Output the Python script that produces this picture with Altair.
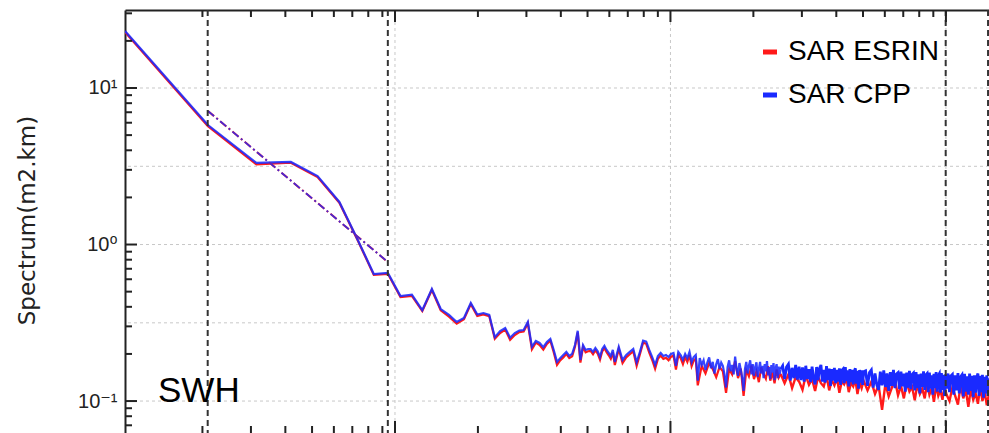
import altair as alt
import pandas as pd

DK = 0.01047  # spectral step (cycles/km): bin n sits at n*DK

# ---------------- spectra -----------------
n_esrin_low = list(range(1, 61)) + list(range(62, 121, 2)) + list(range(124, 241, 4))
n_cpp_low = list(range(1, 61)) + list(range(62, 241, 2))

cpp_low = [
    23.1, 5.80, 3.32, 3.37, 2.74, 1.87, 1.07, 0.648, 0.658, 0.469,
    0.479, 0.381, 0.520, 0.387, 0.355, 0.320, 0.339, 0.423, 0.357, 0.365,
    0.355, 0.256, 0.280, 0.293, 0.254, 0.272, 0.282, 0.284, 0.320, 0.222,
    0.242, 0.235, 0.221, 0.238, 0.249, 0.212, 0.178, 0.188, 0.197, 0.206,
    0.194, 0.200, 0.228, 0.281, 0.183, 0.228, 0.212, 0.215, 0.215, 0.206,
    0.218, 0.208, 0.191, 0.215, 0.225, 0.212, 0.203, 0.194, 0.212, 0.178,
    0.222, 0.183, 0.197, 0.206, 0.215, 0.177, 0.206, 0.243, 0.240, 0.212,
    0.191, 0.170, 0.194, 0.203, 0.194, 0.197, 0.191, 0.200, 0.203, 0.168,
    0.206, 0.197, 0.183, 0.200, 0.188, 0.206, 0.177, 0.191, 0.197, 0.135,
    0.188, 0.170, 0.182, 0.158, 0.176, 0.190, 0.162, 0.178, 0.150, 0.172,
    0.185, 0.160, 0.176, 0.168, 0.148, 0.122, 0.165, 0.182, 0.155, 0.170,
    0.148, 0.192, 0.160, 0.145, 0.175, 0.158, 0.140, 0.116, 0.160, 0.178,
    0.150, 0.168, 0.182, 0.148, 0.172, 0.145, 0.165, 0.177, 0.142, 0.160,
    0.178, 0.150, 0.168, 0.140, 0.172, 0.155, 0.180, 0.146, 0.165, 0.138,
    0.170, 0.152, 0.175, 0.136, 0.162, 0.172, 0.140, 0.166, 0.148, 0.160,
]

esrin_low = [
    22.8, 5.70, 3.25, 3.33, 2.70, 1.85, 1.06, 0.640, 0.650, 0.462,
    0.470, 0.376, 0.512, 0.380, 0.346, 0.312, 0.333, 0.416, 0.350, 0.358,
    0.349, 0.250, 0.272, 0.286, 0.246, 0.264, 0.276, 0.278, 0.314, 0.214,
    0.236, 0.228, 0.213, 0.232, 0.243, 0.205, 0.170, 0.182, 0.190, 0.200,
    0.188, 0.193, 0.222, 0.274, 0.176, 0.222, 0.205, 0.208, 0.209, 0.199,
    0.211, 0.201, 0.184, 0.208, 0.218, 0.205, 0.196, 0.186, 0.205, 0.170,
    0.215, 0.175, 0.190, 0.199, 0.208, 0.168, 0.199, 0.236, 0.232, 0.204,
    0.183, 0.161, 0.186, 0.195, 0.186, 0.189, 0.182, 0.192, 0.195, 0.159,
    0.197, 0.188, 0.172, 0.191, 0.178, 0.197, 0.167, 0.181, 0.187, 0.126,
    0.168, 0.150, 0.175, 0.160, 0.142, 0.165, 0.155, 0.113, 0.160, 0.148,
    0.180, 0.140, 0.161, 0.108, 0.157, 0.144, 0.169, 0.138, 0.155, 0.132,
    0.164, 0.149, 0.139, 0.167, 0.135, 0.152, 0.130, 0.159, 0.141, 0.149,
]

n_hi_cpp = list(range(244, 481, 4)) + list(range(488, 961, 8)) + list(range(972, 1369, 12))
cpp_hi = [
    0.168, 0.138, 0.165, 0.172, 0.135, 0.163, 0.140, 0.170, 0.137, 0.166,
    0.136, 0.164, 0.133, 0.168, 0.138, 0.160, 0.132, 0.166, 0.139, 0.128,
    0.165, 0.136, 0.162, 0.170, 0.133, 0.158, 0.131, 0.167, 0.136, 0.161,
    0.125, 0.160, 0.135, 0.163, 0.130, 0.158, 0.133, 0.162, 0.127, 0.157,
    0.160, 0.130, 0.165, 0.134, 0.157, 0.124, 0.160, 0.132, 0.158, 0.128,
    0.155, 0.162, 0.129, 0.156, 0.120, 0.158, 0.131, 0.157, 0.127, 0.154,
    0.156, 0.125, 0.152, 0.158, 0.122, 0.150, 0.127, 0.118, 0.154, 0.126,
    0.157, 0.123, 0.150, 0.116, 0.153, 0.125, 0.158, 0.121, 0.149, 0.152,
    0.119, 0.154, 0.124, 0.150, 0.115, 0.152, 0.122, 0.156, 0.119, 0.148,
    0.151, 0.117, 0.153, 0.121, 0.148, 0.112, 0.150, 0.123, 0.155, 0.118,
    0.147, 0.150, 0.114, 0.152, 0.120, 0.146, 0.110, 0.149, 0.121, 0.153,
    0.115, 0.146, 0.150, 0.113, 0.151, 0.118, 0.147, 0.108, 0.148, 0.120,
    0.150, 0.114, 0.145, 0.148, 0.110, 0.146, 0.117, 0.151, 0.112, 0.143,
    0.147, 0.107, 0.149, 0.115, 0.144, 0.110, 0.150, 0.116, 0.145, 0.106,
    0.146, 0.113, 0.142, 0.150, 0.108, 0.145, 0.114, 0.147, 0.105, 0.143,
    0.112, 0.146, 0.108, 0.140,
]

n_hi_esrin = list(range(248, 481, 8)) + list(range(496, 961, 16)) + list(range(984, 1369, 24))
esrin_hi = [
    0.130, 0.148, 0.121, 0.142, 0.133, 0.118, 0.146, 0.127, 0.138, 0.116,
    0.143, 0.130, 0.124, 0.145, 0.117, 0.136, 0.126, 0.141, 0.113, 0.134,
    0.128, 0.139, 0.114, 0.131, 0.124, 0.137, 0.111, 0.132, 0.121, 0.135,
    0.117, 0.133, 0.111, 0.126, 0.088, 0.129, 0.107, 0.122, 0.135, 0.109,
    0.125, 0.104, 0.131, 0.115, 0.123, 0.101, 0.128, 0.111, 0.120, 0.104,
    0.131, 0.110, 0.121, 0.099, 0.126, 0.108, 0.118, 0.102, 0.124, 0.110,
    0.100, 0.122, 0.108, 0.095, 0.127, 0.104, 0.117, 0.092, 0.120, 0.102,
    0.112, 0.096, 0.124, 0.100, 0.115, 0.094, 0.110,
]

# power-law fit between bins 2 and 9 (dash-dot)
fit_n = [2, 9]
fit_val = [7.13, 0.773]

series_names = ["SAR ESRIN", "SAR CPP"]
series_colors = ["#ff1a1a", "#1a2aff"]

# ---------------- decorations -----------------
dashed_k = [0.0209, 0.0942, 9.98, 14.22]
x_grid = [0.1, 1, 10]
y_grid = [0.1, 0.316, 1, 3.16, 10]
x_major = [0.1, 1, 10]
x_minor = [0.02, 0.03, 0.04, 0.05, 0.06, 0.07, 0.08, 0.09,
           0.2, 0.3, 0.4, 0.5, 0.6, 0.7, 0.8, 0.9,
           2, 3, 4, 5, 6, 7, 8, 9]
y_major = [0.1, 1, 10]
y_minor = [0.07, 0.08, 0.09, 0.2, 0.3, 0.4, 0.5, 0.6, 0.7, 0.8, 0.9,
           2, 3, 4, 5, 6, 7, 8, 9, 20, 30]
panel_label = ["SWH"]

W, H = 864, 423
X_DOMAIN = [DK * 1, DK * 1369]
Y_DOMAIN = [0.0625, 31.5]

xs = alt.Scale(type="log", domain=X_DOMAIN, nice=False)
ys = alt.Scale(type="log", domain=Y_DOMAIN, nice=False)

x_axis = alt.Axis(orient="top", title=None, labels=False, ticks=False,
                  grid=False, domain=True, domainColor="#222",
                  domainWidth=2, values=x_major)
y_axis = alt.Axis(orient="left", values=y_major, grid=False, ticks=False,
                  domain=True, domainColor="#222", domainWidth=2,
                  labelExpr="datum.value > 5 ? '10¹' : datum.value > 0.5 ? '10⁰' : '10⁻¹'",
                  labelFont="Liberation Sans, DejaVu Sans", labelFontSize=20,
                  labelColor="#222", labelPadding=8,
                  title="Spectrum(m2.km)", titleFont="DejaVu Sans",
                  titleFontSize=23, titleFontWeight="normal", titleColor="#222",
                  titleAngle=270, titleX=-98, titleY=210,
                  titleAlign="center", titleBaseline="middle")


def frame_of(ns, vals, name):
    return pd.DataFrame({"k": [n * DK for n in ns], "v": vals, "series": name})


df_esrin_low = frame_of(n_esrin_low, esrin_low, "SAR ESRIN")
df_cpp_low = frame_of(n_cpp_low, cpp_low, "SAR CPP")
# high-frequency parts start from the last low-frequency bin so the lines join
df_esrin_hi = frame_of(n_esrin_low[-1:] + n_hi_esrin, esrin_low[-1:] + esrin_hi, "SAR ESRIN")
df_cpp_hi = frame_of(n_cpp_low[-1:] + n_hi_cpp, cpp_low[-1:] + cpp_hi, "SAR CPP")
fit_df = pd.DataFrame({"k": [n * DK for n in fit_n], "v": fit_val})

color = alt.Color(
    "series:N",
    scale=alt.Scale(domain=series_names, range=series_colors),
    legend=alt.Legend(
        title=None, orient="none", legendX=631, legendY=28,
        symbolType="stroke", symbolStrokeWidth=5, symbolSize=196,
        labelFontSize=28, labelFont="Liberation Sans", labelColor="#000",
        rowPadding=15, labelOffset=4, padding=0, symbolOpacity=1,
    ),
)

frame = alt.Chart(pd.DataFrame({"k": x_grid, "v": [0.1, 1, 10]})).mark_point(opacity=0).encode(
    x=alt.X("k:Q", scale=xs, axis=x_axis),
    y=alt.Y("v:Q", scale=ys, axis=y_axis),
)

hgrid = alt.Chart(pd.DataFrame({"v": y_grid})).mark_rule(
    color="#c8c8c8", strokeDash=[3, 3], strokeWidth=1
).encode(y=alt.Y("v:Q", scale=ys))

vgrid = alt.Chart(pd.DataFrame({"k": x_grid})).mark_rule(
    color="#c8c8c8", strokeDash=[3, 3], strokeWidth=1
).encode(x=alt.X("k:Q", scale=xs))


def spectrum(data, width, opacity):
    return alt.Chart(data).mark_line(strokeWidth=width, opacity=opacity, clip=True).encode(
        x=alt.X("k:Q", scale=xs),
        y=alt.Y("v:Q", scale=ys),
        color=color,
        order=alt.Order("k:Q"),
    )


red_low = spectrum(df_esrin_low, 2.2, 1)
red_hi = spectrum(df_esrin_hi, 2.4, 1)
blue_low = spectrum(df_cpp_low, 2.2, 0.88)
blue_hi = spectrum(df_cpp_hi, 2.8, 1)

fit_red = alt.Chart(fit_df).mark_line(
    color="#ff1a1a", strokeWidth=2, strokeDash=[8, 3, 2, 3]
).encode(x=alt.X("k:Q", scale=xs), y=alt.Y("v:Q", scale=ys))
fit_blue = alt.Chart(fit_df).mark_line(
    color="#1a2aff", strokeWidth=1.8, strokeDash=[8, 3, 2, 3], opacity=0.8
).encode(x=alt.X("k:Q", scale=xs), y=alt.Y("v:Q", scale=ys))

dashed = alt.Chart(pd.DataFrame({"k": dashed_k})).mark_rule(
    color="#333", strokeDash=[6, 4], strokeWidth=2
).encode(x=alt.X("k:Q", scale=xs))

tick_color = "#222"
top_major = alt.Chart(pd.DataFrame({"k": x_major})).mark_rule(color=tick_color, strokeWidth=2).encode(
    x=alt.X("k:Q", scale=xs), y=alt.value(0), y2=alt.value(12))
top_minor = alt.Chart(pd.DataFrame({"k": x_minor})).mark_rule(color=tick_color, strokeWidth=2).encode(
    x=alt.X("k:Q", scale=xs), y=alt.value(0), y2=alt.value(7))
bot_major = alt.Chart(pd.DataFrame({"k": x_major})).mark_rule(color=tick_color, strokeWidth=2).encode(
    x=alt.X("k:Q", scale=xs), y=alt.value(H), y2=alt.value(H - 12))
bot_minor = alt.Chart(pd.DataFrame({"k": x_minor})).mark_rule(color=tick_color, strokeWidth=2).encode(
    x=alt.X("k:Q", scale=xs), y=alt.value(H), y2=alt.value(H - 7))
left_major = alt.Chart(pd.DataFrame({"v": y_major})).mark_rule(color=tick_color, strokeWidth=2).encode(
    y=alt.Y("v:Q", scale=ys), x=alt.value(0), x2=alt.value(12))
left_minor = alt.Chart(pd.DataFrame({"v": y_minor})).mark_rule(color=tick_color, strokeWidth=2).encode(
    y=alt.Y("v:Q", scale=ys), x=alt.value(0), x2=alt.value(7))

swh = alt.Chart(pd.DataFrame({"label": panel_label})).mark_text(
    align="left", baseline="alphabetic", fontSize=35, font="Liberation Sans", color="#000"
).encode(text="label:N", x=alt.value(33), y=alt.value(392))

chart = alt.layer(
    frame, hgrid, vgrid, red_low, red_hi, blue_low, blue_hi, fit_red, fit_blue, dashed,
    top_major, top_minor, bot_major, bot_minor, left_major, left_minor, swh,
).properties(
    width=W, height=H,
    autosize=alt.AutoSizeParams(type="none"),
    padding={"left": 125, "top": 10, "right": 0, "bottom": 0},
    background="white",
).configure_view(stroke=None)

chart.save("out.html", embed_options={"renderer": "svg", "actions": False})
